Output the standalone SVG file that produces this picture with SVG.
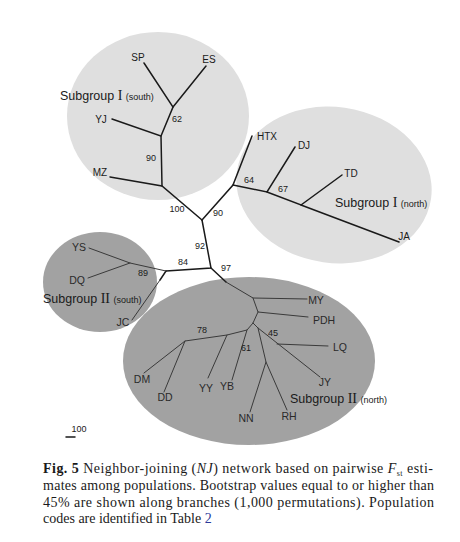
<svg xmlns="http://www.w3.org/2000/svg" width="460" height="542" viewBox="0 0 460 542">
<style>
.light{fill:#dfdfdf}
.dark{fill:#a2a2a2}
.e1{stroke:#1a1a1a;stroke-width:1.5;fill:none;stroke-linecap:round}
.e2{stroke:#3a3a3a;stroke-width:1;fill:none;stroke-linecap:round}
.lab{font-family:"Liberation Sans",Arial,sans-serif;font-size:10px;fill:#1a1a1a;text-anchor:middle}
.lab2{font-family:"Liberation Sans",Arial,sans-serif;font-size:10.5px;fill:#2a2a2a;text-anchor:middle}
.num{font-family:"Liberation Sans",Arial,sans-serif;font-size:9px;fill:#1a1a1a;text-anchor:middle}
.grp{font-family:"Liberation Sans",Arial,sans-serif;font-size:12.5px;fill:#1a1a1a}
.rom{font-family:"Liberation Serif","Times New Roman",serif;font-size:14px}
.sm{font-size:9px}
.cap{font-family:"Liberation Serif","Times New Roman",serif;font-size:14px;fill:#1a1a1a}
</style>
<rect width="460" height="542" fill="#ffffff"/>
<g id="regions">
<ellipse id="subgroupI-south" class="light" cx="158" cy="116" rx="91" ry="84"/>
<ellipse id="subgroupI-north" class="light" cx="334" cy="185" rx="98" ry="78" transform="rotate(8 334 185)"/>
<ellipse id="subgroupII-south" class="dark" cx="100" cy="282" rx="57" ry="50"/>
<ellipse id="subgroupII-north" class="dark" cx="249" cy="361" rx="126" ry="84"/>
</g>
<g id="connectors">
<polyline class="e1" points="202,220 162,186 110,177"/>
<polyline class="e1" points="162,186 161,136 112,119"/>
<polyline class="e1" points="161,136 173,107 144,63"/>
<line class="e1" x1="173" y1="107" x2="206" y2="66"/>
<polyline class="e1" points="202,220 233,185 252,136"/>
<polyline class="e1" points="233,185 267,192 295,147"/>
<polyline class="e1" points="267,192 301,205 342,175"/>
<line class="e1" x1="301" y1="205" x2="399" y2="242"/>
<polyline class="e1" points="202,220 211,268 166,271"/>
<polyline class="e1" points="166,271 160,280"/>
<polyline class="e2" points="166,271 130,263 89,248"/>
<line class="e2" x1="130" y1="263" x2="88" y2="278"/>
<polyline class="e2" points="160,280 132,320"/>
<polyline class="e1" points="211,268 226,282"/>
<polyline class="e2" points="226,282 253,298 307,299"/>
<polyline class="e2" points="253,298 258,312 308,317"/>
<polyline class="e2" points="258,312 253,323 247,330 227,335 185,341 144,373"/>
<line class="e2" x1="185" y1="341" x2="164" y2="392"/>
<line class="e2" x1="227" y1="335" x2="208" y2="378"/>
<line class="e2" x1="247" y1="330" x2="232" y2="380"/>
<polyline class="e2" points="253,323 258,328 320,377"/>
<line class="e2" x1="277" y1="344" x2="328" y2="346"/>
<polyline class="e2" points="258,328 266,362 250,412"/>
<line class="e2" x1="266" y1="362" x2="287" y2="410"/>
<line class="e1" x1="66" y1="437" x2="75" y2="437"/>
</g>
<g id="node-SP"><text class="lab" x="138" y="61">SP</text></g>
<g id="node-ES"><text class="lab" x="209" y="63">ES</text></g>
<g id="node-YJ"><text class="lab" x="101" y="123">YJ</text></g>
<g id="node-MZ"><text class="lab" x="100" y="176">MZ</text></g>
<g id="node-HTX"><text class="lab" x="257" y="140" style="text-anchor:start">HTX</text></g>
<g id="node-DJ"><text class="lab" x="304" y="149">DJ</text></g>
<g id="node-TD"><text class="lab" x="351" y="177">TD</text></g>
<g id="node-JA"><text class="lab" x="404" y="240">JA</text></g>
<g id="node-YS"><text class="lab2" x="79" y="251">YS</text></g>
<g id="node-DQ"><text class="lab2" x="77" y="284">DQ</text></g>
<g id="node-JC"><text class="lab2" x="123" y="326">JC</text></g>
<g id="node-MY"><text class="lab2" x="316" y="304">MY</text></g>
<g id="node-PDH"><text class="lab2" x="324" y="324">PDH</text></g>
<g id="node-LQ"><text class="lab2" x="340" y="351">LQ</text></g>
<g id="node-JY"><text class="lab2" x="325" y="386">JY</text></g>
<g id="node-DM"><text class="lab2" x="142" y="383">DM</text></g>
<g id="node-DD"><text class="lab2" x="165" y="401">DD</text></g>
<g id="node-YY"><text class="lab2" x="206" y="392">YY</text></g>
<g id="node-YB"><text class="lab2" x="227" y="390">YB</text></g>
<g id="node-NN"><text class="lab2" x="246" y="422">NN</text></g>
<g id="node-RH"><text class="lab2" x="289" y="420">RH</text></g>
<g id="bootstrap">
<text class="num" x="177" y="122">62</text>
<text class="num" x="151" y="161">90</text>
<text class="num" x="177" y="212">100</text>
<text class="num" x="218" y="216">90</text>
<text class="num" x="249" y="183">64</text>
<text class="num" x="283" y="192">67</text>
<text class="num" x="200" y="249">92</text>
<text class="num" x="183" y="265">84</text>
<text class="num" x="226" y="271">97</text>
<text class="num" x="143" y="276">89</text>
<text class="num" x="202" y="333">78</text>
<text class="num" x="246" y="351">61</text>
<text class="num" x="273" y="336">45</text>
<text class="num" x="79" y="432">100</text>
</g>
<g id="group-labels">
<text class="grp" x="60" y="100">Subgroup <tspan class="rom">I</tspan> <tspan class="sm">(south)</tspan></text>
<text class="grp" x="335" y="207">Subgroup <tspan class="rom">I</tspan> <tspan class="sm">(north)</tspan></text>
<text class="grp" x="43" y="303">Subgroup <tspan class="rom">II</tspan> <tspan class="sm">(south)</tspan></text>
<text class="grp" x="290" y="403">Subgroup <tspan class="rom">II</tspan> <tspan class="sm">(north)</tspan></text>
</g>
<g id="caption">
<text class="cap" x="43" y="473" textLength="390" lengthAdjust="spacing"><tspan font-weight="bold">Fig. 5</tspan> Neighbor-joining (<tspan font-style="italic">NJ</tspan>) network based on pairwise <tspan font-style="italic">F</tspan><tspan font-size="8" dy="3">st</tspan><tspan dy="-3"> esti-</tspan></text>
<text class="cap" x="43" y="490" textLength="391" lengthAdjust="spacing">mates among populations. Bootstrap values equal to or higher than</text>
<text class="cap" x="43" y="507" textLength="391" lengthAdjust="spacing">45% are shown along branches (1,000 permutations). Population</text>
<text class="cap" x="43" y="523">codes are identified in Table <tspan fill="#2b3a9a">2</tspan></text>
</g>
</svg>
